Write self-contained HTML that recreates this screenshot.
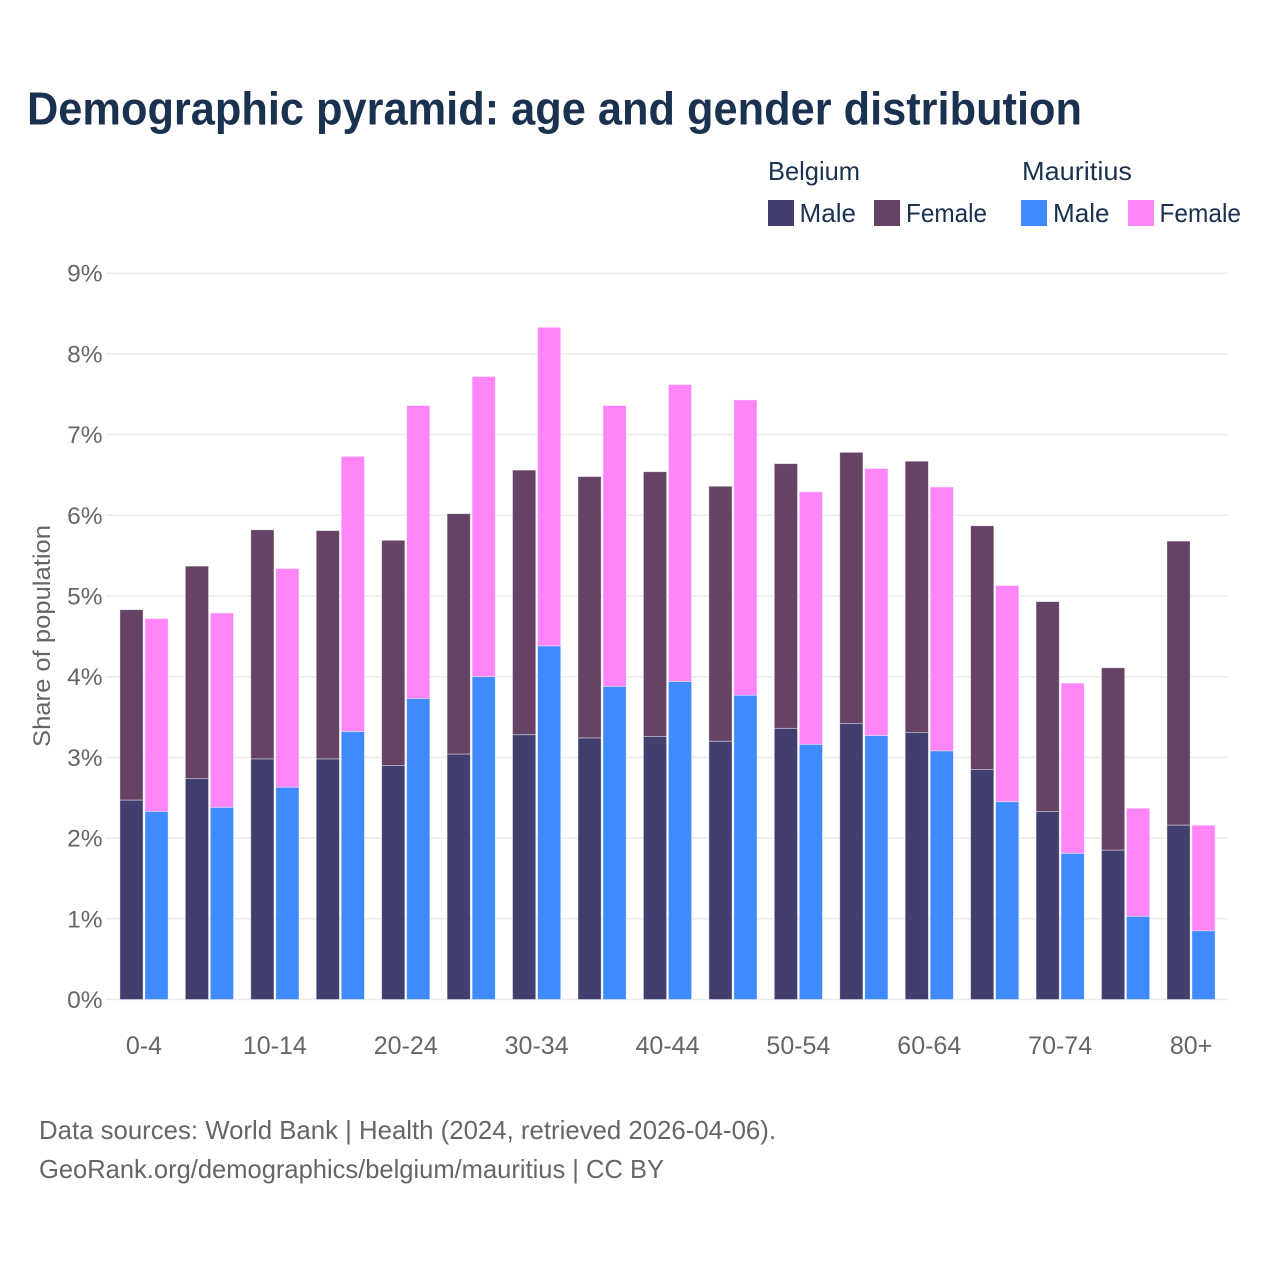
<!DOCTYPE html>
<html lang="en">
<head>
<meta charset="utf-8">
<title>Demographic pyramid: age and gender distribution</title>
<style>
html,body{margin:0;padding:0;background:#fff;}
svg{display:block;font-family:"Liberation Sans",sans-serif;}
</style>
</head>
<body>
<svg id="chart" xmlns="http://www.w3.org/2000/svg" width="1280" height="1280" viewBox="0 0 1280 1280">
  <rect width="1280" height="1280" fill="#fff"/>
  <text x="27" y="124.500" font-size="46" font-weight="700" fill="#1a3150" textLength="1055" lengthAdjust="spacingAndGlyphs">Demographic pyramid: age and gender distribution</text>

  <g font-size="26" fill="#1a3150">
    <text x="768" y="180" textLength="92" lengthAdjust="spacingAndGlyphs">Belgium</text>
    <text x="1022" y="180" textLength="110" lengthAdjust="spacingAndGlyphs">Mauritius</text>
    <rect x="768" y="200" width="26" height="26" fill="#413f70"/>
    <text x="799.500" y="222" textLength="56.500" lengthAdjust="spacingAndGlyphs">Male</text>
    <rect x="874" y="200" width="26" height="26" fill="#664265"/>
    <text x="906" y="222" textLength="81" lengthAdjust="spacingAndGlyphs">Female</text>
    <rect x="1021" y="200" width="26" height="26" fill="#408aff"/>
    <text x="1053" y="222" textLength="56.500" lengthAdjust="spacingAndGlyphs">Male</text>
    <rect x="1128" y="200" width="26" height="26" fill="#ff85f9"/>
    <text x="1159.500" y="222" textLength="81.500" lengthAdjust="spacingAndGlyphs">Female</text>
  </g>

  <g id="grid"></g>
  <g id="yticks"></g>
  <g id="bars"></g>
  <g id="xticks"></g>

  <text transform="translate(50,636) rotate(-90)" text-anchor="middle" font-size="24" fill="#666" textLength="222" lengthAdjust="spacingAndGlyphs">Share of population</text>

  <text x="39" y="1139" font-size="26" fill="#666" textLength="737" lengthAdjust="spacingAndGlyphs">Data sources: World Bank | Health (2024, retrieved 2026-04-06).</text>
  <text x="39" y="1178" font-size="26" fill="#666" textLength="625" lengthAdjust="spacingAndGlyphs">GeoRank.org/demographics/belgium/mauritius | CC BY</text>
</svg>
<script>
var ageGroups = ["0-4","5-9","10-14","15-19","20-24","25-29","30-34","35-39","40-44","45-49","50-54","55-59","60-64","65-69","70-74","75-79","80+"];
var xTickLabels = ["0-4","10-14","20-24","30-34","40-44","50-54","60-64","70-74","80+"];
var yTickValues = [0,1,2,3,4,5,6,7,8,9];
var belgiumMale = [2.47,2.74,2.98,2.98,2.90,3.04,3.28,3.24,3.26,3.20,3.36,3.42,3.31,2.85,2.33,1.85,2.16];
var belgiumFemale = [2.36,2.63,2.84,2.83,2.79,2.98,3.28,3.24,3.28,3.16,3.28,3.36,3.36,3.02,2.60,2.26,3.52];
var mauritiusMale = [2.33,2.38,2.63,3.32,3.73,4.00,4.38,3.88,3.94,3.77,3.16,3.27,3.08,2.45,1.81,1.03,0.85];
var mauritiusFemale = [2.39,2.41,2.71,3.41,3.63,3.72,3.95,3.48,3.68,3.66,3.13,3.31,3.27,2.68,2.11,1.34,1.31];

var NS = "http://www.w3.org/2000/svg";
function yScale(v){ return 999.5 - v * 80.7; }
function xCenter(i){ return 144 + i * 65.44; }
function make(tag, attrs, parent){
  var el = document.createElementNS(NS, tag);
  for (var k in attrs) el.setAttribute(k, attrs[k]);
  parent.appendChild(el);
  return el;
}
var gridG = document.getElementById("grid");
var yG = document.getElementById("yticks");
var xG = document.getElementById("xticks");
var barsG = document.getElementById("bars");

yTickValues.forEach(function(v){
  var line = make("line", {x1:106, x2:1228, y1:yScale(v), y2:yScale(v), stroke:"#ebebeb", "stroke-width":1.5}, gridG);
  
  
  var t = make("text", {x:102.5, y:yScale(v)+8.5, "text-anchor":"end", "font-size":24.5, fill:"#666"}, yG);
  
  
  t.textContent = v + "%";
});

xTickLabels.forEach(function(label){
  var i = ageGroups.indexOf(label);
  var t = make("text", {x:xCenter(i), y:1054, "text-anchor":"middle", "font-size":25, fill:"#666"}, xG);
  
  
  t.textContent = label;
});

var barW = 23.2;
function addBar(x, low, high, fill, name){
  var r = make("rect", {x:x, y:yScale(high), width:barW, height:yScale(low)-yScale(high), fill:fill, stroke:"#fff", "stroke-width":0.8, "stroke-opacity":0.5}, barsG);
  
  
}
ageGroups.forEach(function(a, i){
  var c = xCenter(i);
  var bx = c - barW - 0.9;
  var mx = c + 0.9;
  addBar(bx, belgiumMale[i], belgiumMale[i] + belgiumFemale[i], "#664265", "bar-belgium-female");
  addBar(bx, 0, belgiumMale[i], "#413f70", "bar-belgium-male");
  addBar(mx, mauritiusMale[i], mauritiusMale[i] + mauritiusFemale[i], "#ff85f9", "bar-mauritius-female");
  addBar(mx, 0, mauritiusMale[i], "#408aff", "bar-mauritius-male");
});
</script>
</body>
</html>
